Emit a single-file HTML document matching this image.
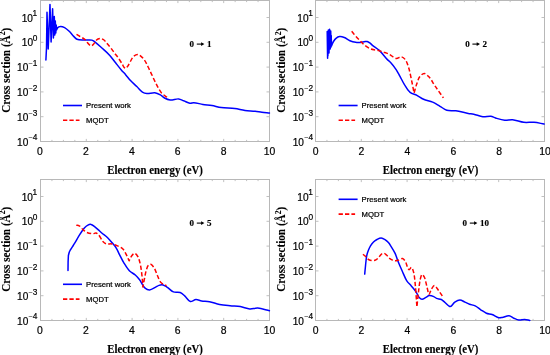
<!DOCTYPE html><html><head><meta charset="utf-8"><style>html,body{margin:0;padding:0;background:#fff;}body{width:550px;height:355px;overflow:hidden;}svg{display:block;will-change:transform;filter:blur(0.3px);}</style></head><body>
<svg width="550" height="355" viewBox="0 0 550 355">
<rect width="550" height="355" fill="#fff"/>
<path d="M40.50 141.50v-2.6M40.50 0.50v2.6M51.95 141.50v-1.6M51.95 0.50v1.6M63.40 141.50v-1.6M63.40 0.50v1.6M74.85 141.50v-1.6M74.85 0.50v1.6M86.30 141.50v-2.6M86.30 0.50v2.6M97.75 141.50v-1.6M97.75 0.50v1.6M109.20 141.50v-1.6M109.20 0.50v1.6M120.65 141.50v-1.6M120.65 0.50v1.6M132.10 141.50v-2.6M132.10 0.50v2.6M143.55 141.50v-1.6M143.55 0.50v1.6M155.00 141.50v-1.6M155.00 0.50v1.6M166.45 141.50v-1.6M166.45 0.50v1.6M177.90 141.50v-2.6M177.90 0.50v2.6M189.35 141.50v-1.6M189.35 0.50v1.6M200.80 141.50v-1.6M200.80 0.50v1.6M212.25 141.50v-1.6M212.25 0.50v1.6M223.70 141.50v-2.6M223.70 0.50v2.6M235.15 141.50v-1.6M235.15 0.50v1.6M246.60 141.50v-1.6M246.60 0.50v1.6M258.05 141.50v-1.6M258.05 0.50v1.6M269.50 141.50v-2.6M269.50 0.50v2.6M40.50 141.50h3.0M269.50 141.50h-3.0M40.50 116.70h3.0M269.50 116.70h-3.0M40.50 91.90h3.0M269.50 91.90h-3.0M40.50 67.10h3.0M269.50 67.10h-3.0M40.50 42.30h3.0M269.50 42.30h-3.0M40.50 17.50h3.0M269.50 17.50h-3.0" stroke="#b0b0b0" stroke-width="0.8" fill="none"/>
<rect x="40.50" y="0.50" width="229.00" height="141.00" fill="none" stroke="#b8b8b8" stroke-width="1"/>
<text x="40.00" y="154.50" text-anchor="middle" font-family="Liberation Sans, sans-serif" font-size="10.4" fill="#000" stroke="#000" stroke-width="0.2">0</text>
<text x="85.90" y="154.50" text-anchor="middle" font-family="Liberation Sans, sans-serif" font-size="10.4" fill="#000" stroke="#000" stroke-width="0.2">2</text>
<text x="131.80" y="154.50" text-anchor="middle" font-family="Liberation Sans, sans-serif" font-size="10.4" fill="#000" stroke="#000" stroke-width="0.2">4</text>
<text x="177.70" y="154.50" text-anchor="middle" font-family="Liberation Sans, sans-serif" font-size="10.4" fill="#000" stroke="#000" stroke-width="0.2">6</text>
<text x="223.60" y="154.50" text-anchor="middle" font-family="Liberation Sans, sans-serif" font-size="10.4" fill="#000" stroke="#000" stroke-width="0.2">8</text>
<text x="269.50" y="154.50" text-anchor="middle" font-family="Liberation Sans, sans-serif" font-size="10.4" fill="#000" stroke="#000" stroke-width="0.2">10</text>
<text x="37.20" y="21.50" text-anchor="end" font-family="Liberation Sans, sans-serif" font-size="10.1" fill="#000" stroke="#000" stroke-width="0.2">10<tspan font-size="8.3" dy="-5.1" dx="-0.4">1</tspan></text>
<text x="37.40" y="46.30" text-anchor="end" font-family="Liberation Sans, sans-serif" font-size="10.1" fill="#000" stroke="#000" stroke-width="0.2">10<tspan font-size="8.3" dy="-5.1" dx="-0.3">0</tspan></text>
<text x="37.40" y="71.10" text-anchor="end" font-family="Liberation Sans, sans-serif" font-size="10.1" fill="#000" stroke="#000" stroke-width="0.2">10<tspan font-size="6.8" dy="-5.1" dx="0.5">−</tspan><tspan font-size="8.3">1</tspan></text>
<text x="37.40" y="95.90" text-anchor="end" font-family="Liberation Sans, sans-serif" font-size="10.1" fill="#000" stroke="#000" stroke-width="0.2">10<tspan font-size="6.8" dy="-5.1" dx="0.5">−</tspan><tspan font-size="8.3">2</tspan></text>
<text x="37.40" y="120.70" text-anchor="end" font-family="Liberation Sans, sans-serif" font-size="10.1" fill="#000" stroke="#000" stroke-width="0.2">10<tspan font-size="6.8" dy="-5.1" dx="0.5">−</tspan><tspan font-size="8.3">3</tspan></text>
<text x="37.40" y="145.50" text-anchor="end" font-family="Liberation Sans, sans-serif" font-size="10.1" fill="#000" stroke="#000" stroke-width="0.2">10<tspan font-size="6.8" dy="-5.1" dx="0.5">−</tspan><tspan font-size="8.3">4</tspan></text>
<text transform="translate(155.00 174.20) scale(0.93 1)" x="0" y="0" text-anchor="middle" font-family="Liberation Serif, serif" font-weight="bold" font-size="11.6" fill="#000" stroke="#000" stroke-width="0.15">Electron energy (eV)</text>
<text transform="translate(9.80 70.30) rotate(-90) scale(0.91 1)" x="0" y="0" text-anchor="middle" font-family="Liberation Serif, serif" font-weight="bold" font-size="12.3" fill="#000" stroke="#000" stroke-width="0.1">Cross section (Å<tspan font-size="8.2" dy="-4.6">2</tspan><tspan dy="4.6">)</tspan></text>
<text x="189.60" y="46.80" font-family="Liberation Serif, serif" font-weight="bold" font-size="9" fill="#000" stroke="#000" stroke-width="0.15">0</text>
<path d="M196.80 44.10H202.30" stroke="#000" stroke-width="1.1"/><path d="M201.10 42.30L204.40 44.10L201.10 45.90z" fill="#000"/>
<text x="207.00" y="46.80" font-family="Liberation Serif, serif" font-weight="bold" font-size="9" fill="#000" stroke="#000" stroke-width="0.15">1</text>
<path d="M63.00 105.50H82.00" stroke="#0000ff" stroke-width="1.6"/>
<path d="M63.00 120.30H79.50" stroke="#ff0000" stroke-width="1.6" stroke-dasharray="4.3 2.1"/>
<text x="86.00" y="108.30" font-family="Liberation Sans, sans-serif" font-size="7.7" fill="#000" stroke="#000" stroke-width="0.22">Present work</text>
<text x="86.00" y="122.90" font-family="Liberation Sans, sans-serif" font-size="7.7" fill="#000" stroke="#000" stroke-width="0.22">MQDT</text>
<clipPath id="c0"><rect x="40.00" y="0.00" width="230.50" height="143.00"/></clipPath>
<path clip-path="url(#c0)" d="M45.90 60.00 L46.50 48.00 L47.00 12.20 L48.20 49.00 L50.00 4.40 L51.10 42.00 L52.60 8.70 L53.40 38.00 L54.30 16.50 L54.80 35.00 L55.30 21.00 L55.80 33.00 L56.20 25.00 L56.60 30.00 C56.90 29.33 57.10 28.53 57.50 28.00 C57.85 27.53 58.29 27.16 58.80 26.90 C59.35 26.62 59.96 26.38 60.70 26.40 C61.77 26.42 63.31 26.92 64.60 27.60 C66.15 28.42 67.73 29.90 69.20 31.30 C70.78 32.81 72.27 34.99 73.70 36.40 C74.84 37.52 75.65 38.58 77.00 39.20 C78.56 39.92 80.83 39.99 82.70 40.10 C84.49 40.21 86.38 39.89 88.00 39.90 C89.37 39.91 90.62 39.74 91.80 40.10 C92.99 40.47 93.85 41.19 95.10 42.10 C97.01 43.49 99.57 45.90 101.90 48.00 C104.46 50.30 107.46 52.84 109.80 55.40 C111.98 57.79 113.67 60.36 115.60 62.80 C117.50 65.20 119.48 67.76 121.30 69.90 C122.86 71.74 124.30 73.16 125.80 74.90 C127.37 76.72 128.75 78.74 130.50 80.60 C132.39 82.61 134.78 84.54 136.80 86.50 C138.74 88.38 140.49 90.92 142.40 92.10 C143.88 93.01 145.17 93.42 146.90 93.60 C149.14 93.83 152.43 92.39 154.80 92.70 C156.86 92.97 158.73 93.97 160.40 94.90 C161.94 95.76 162.95 97.17 164.50 98.00 C166.18 98.90 168.09 99.78 170.20 100.00 C172.70 100.26 176.18 98.62 178.60 98.90 C180.54 99.12 181.92 100.11 183.70 100.80 C185.67 101.56 188.05 103.09 189.90 103.30 C191.33 103.47 192.23 102.67 193.80 102.70 C196.20 102.74 199.87 103.92 202.90 104.40 C205.90 104.88 208.88 105.09 211.90 105.60 C215.01 106.12 217.87 107.02 221.30 107.50 C225.38 108.08 230.63 108.04 234.80 108.60 C238.45 109.09 241.60 110.07 245.00 110.50 C248.36 110.93 252.07 110.85 255.10 111.20 C257.60 111.49 259.57 111.99 261.90 112.30 C264.36 112.63 266.97 112.83 269.50 113.10" stroke="#0000ff" stroke-width="1.5" fill="none" stroke-linejoin="round" stroke-linecap="round"/>
<path clip-path="url(#c0)" d="M76.50 34.40 C77.67 35.10 78.81 35.80 80.00 36.50 C81.24 37.23 82.73 37.91 83.80 38.70 C84.70 39.36 85.36 40.00 86.10 40.80 C86.93 41.70 87.61 43.03 88.50 43.90 C89.32 44.71 90.33 45.89 91.20 45.90 C91.99 45.91 92.81 45.03 93.50 44.30 C94.34 43.42 94.87 41.72 95.70 40.80 C96.40 40.03 97.14 39.38 98.00 39.00 C98.85 38.62 99.86 38.38 100.80 38.50 C101.85 38.64 102.99 39.24 104.00 40.00 C105.24 40.94 106.39 42.70 107.50 44.00 C108.55 45.23 109.46 46.27 110.50 47.60 C111.72 49.16 113.03 51.12 114.30 52.80 C115.53 54.42 116.77 55.78 118.00 57.50 C119.40 59.46 121.11 62.20 122.20 64.00 C122.95 65.24 123.31 66.46 124.00 67.20 C124.52 67.75 125.14 68.36 125.70 68.30 C126.34 68.23 126.97 67.23 127.60 66.40 C128.50 65.21 129.32 63.23 130.30 61.60 C131.34 59.86 132.26 57.47 133.70 56.30 C134.96 55.28 136.69 54.35 138.20 54.60 C140.05 54.91 142.11 57.15 143.80 59.20 C145.96 61.82 147.51 65.87 149.40 69.60 C151.54 73.83 153.73 79.18 155.90 83.30 C157.76 86.83 159.35 90.45 161.50 92.90 C163.25 94.89 165.37 95.90 167.30 97.40" stroke="#ff0000" stroke-width="1.5" fill="none" stroke-dasharray="4.3 2.3" stroke-linejoin="round"/>
<path d="M315.50 141.50v-2.6M315.50 0.50v2.6M326.95 141.50v-1.6M326.95 0.50v1.6M338.40 141.50v-1.6M338.40 0.50v1.6M349.85 141.50v-1.6M349.85 0.50v1.6M361.30 141.50v-2.6M361.30 0.50v2.6M372.75 141.50v-1.6M372.75 0.50v1.6M384.20 141.50v-1.6M384.20 0.50v1.6M395.65 141.50v-1.6M395.65 0.50v1.6M407.10 141.50v-2.6M407.10 0.50v2.6M418.55 141.50v-1.6M418.55 0.50v1.6M430.00 141.50v-1.6M430.00 0.50v1.6M441.45 141.50v-1.6M441.45 0.50v1.6M452.90 141.50v-2.6M452.90 0.50v2.6M464.35 141.50v-1.6M464.35 0.50v1.6M475.80 141.50v-1.6M475.80 0.50v1.6M487.25 141.50v-1.6M487.25 0.50v1.6M498.70 141.50v-2.6M498.70 0.50v2.6M510.15 141.50v-1.6M510.15 0.50v1.6M521.60 141.50v-1.6M521.60 0.50v1.6M533.05 141.50v-1.6M533.05 0.50v1.6M544.50 141.50v-2.6M544.50 0.50v2.6M315.50 141.50h3.0M544.50 141.50h-3.0M315.50 116.70h3.0M544.50 116.70h-3.0M315.50 91.90h3.0M544.50 91.90h-3.0M315.50 67.10h3.0M544.50 67.10h-3.0M315.50 42.30h3.0M544.50 42.30h-3.0M315.50 17.50h3.0M544.50 17.50h-3.0" stroke="#b0b0b0" stroke-width="0.8" fill="none"/>
<rect x="315.50" y="0.50" width="229.00" height="141.00" fill="none" stroke="#b8b8b8" stroke-width="1"/>
<text x="315.60" y="154.50" text-anchor="middle" font-family="Liberation Sans, sans-serif" font-size="10.4" fill="#000" stroke="#000" stroke-width="0.2">0</text>
<text x="361.50" y="154.50" text-anchor="middle" font-family="Liberation Sans, sans-serif" font-size="10.4" fill="#000" stroke="#000" stroke-width="0.2">2</text>
<text x="407.40" y="154.50" text-anchor="middle" font-family="Liberation Sans, sans-serif" font-size="10.4" fill="#000" stroke="#000" stroke-width="0.2">4</text>
<text x="453.30" y="154.50" text-anchor="middle" font-family="Liberation Sans, sans-serif" font-size="10.4" fill="#000" stroke="#000" stroke-width="0.2">6</text>
<text x="499.20" y="154.50" text-anchor="middle" font-family="Liberation Sans, sans-serif" font-size="10.4" fill="#000" stroke="#000" stroke-width="0.2">8</text>
<text x="545.10" y="154.50" text-anchor="middle" font-family="Liberation Sans, sans-serif" font-size="10.4" fill="#000" stroke="#000" stroke-width="0.2">10</text>
<text x="312.80" y="21.50" text-anchor="end" font-family="Liberation Sans, sans-serif" font-size="10.1" fill="#000" stroke="#000" stroke-width="0.2">10<tspan font-size="8.3" dy="-5.1" dx="-0.4">1</tspan></text>
<text x="313.00" y="46.30" text-anchor="end" font-family="Liberation Sans, sans-serif" font-size="10.1" fill="#000" stroke="#000" stroke-width="0.2">10<tspan font-size="8.3" dy="-5.1" dx="-0.3">0</tspan></text>
<text x="313.00" y="71.10" text-anchor="end" font-family="Liberation Sans, sans-serif" font-size="10.1" fill="#000" stroke="#000" stroke-width="0.2">10<tspan font-size="6.8" dy="-5.1" dx="0.5">−</tspan><tspan font-size="8.3">1</tspan></text>
<text x="313.00" y="95.90" text-anchor="end" font-family="Liberation Sans, sans-serif" font-size="10.1" fill="#000" stroke="#000" stroke-width="0.2">10<tspan font-size="6.8" dy="-5.1" dx="0.5">−</tspan><tspan font-size="8.3">2</tspan></text>
<text x="313.00" y="120.70" text-anchor="end" font-family="Liberation Sans, sans-serif" font-size="10.1" fill="#000" stroke="#000" stroke-width="0.2">10<tspan font-size="6.8" dy="-5.1" dx="0.5">−</tspan><tspan font-size="8.3">3</tspan></text>
<text x="313.00" y="145.50" text-anchor="end" font-family="Liberation Sans, sans-serif" font-size="10.1" fill="#000" stroke="#000" stroke-width="0.2">10<tspan font-size="6.8" dy="-5.1" dx="0.5">−</tspan><tspan font-size="8.3">4</tspan></text>
<text transform="translate(430.60 174.20) scale(0.93 1)" x="0" y="0" text-anchor="middle" font-family="Liberation Serif, serif" font-weight="bold" font-size="11.6" fill="#000" stroke="#000" stroke-width="0.15">Electron energy (eV)</text>
<text transform="translate(285.40 70.30) rotate(-90) scale(0.91 1)" x="0" y="0" text-anchor="middle" font-family="Liberation Serif, serif" font-weight="bold" font-size="12.3" fill="#000" stroke="#000" stroke-width="0.1">Cross section (Å<tspan font-size="8.2" dy="-4.6">2</tspan><tspan dy="4.6">)</tspan></text>
<text x="465.20" y="46.80" font-family="Liberation Serif, serif" font-weight="bold" font-size="9" fill="#000" stroke="#000" stroke-width="0.15">0</text>
<path d="M472.40 44.10H477.90" stroke="#000" stroke-width="1.1"/><path d="M476.70 42.30L480.00 44.10L476.70 45.90z" fill="#000"/>
<text x="482.60" y="46.80" font-family="Liberation Serif, serif" font-weight="bold" font-size="9" fill="#000" stroke="#000" stroke-width="0.15">2</text>
<path d="M338.60 105.50H357.60" stroke="#0000ff" stroke-width="1.6"/>
<path d="M338.60 120.30H355.10" stroke="#ff0000" stroke-width="1.6" stroke-dasharray="4.3 2.1"/>
<text x="361.60" y="108.30" font-family="Liberation Sans, sans-serif" font-size="7.7" fill="#000" stroke="#000" stroke-width="0.22">Present work</text>
<text x="361.60" y="122.90" font-family="Liberation Sans, sans-serif" font-size="7.7" fill="#000" stroke="#000" stroke-width="0.22">MQDT</text>
<clipPath id="c1"><rect x="315.60" y="0.00" width="230.50" height="143.00"/></clipPath>
<path clip-path="url(#c1)" d="M327.60 58.30 L327.20 31.50 L327.90 56.00 L328.40 30.00 L329.00 53.00 L329.60 29.20 L330.20 49.00 L330.70 31.00 L331.10 47.00 L331.20 35.50 L331.50 46.00 L332.30 44.00 C332.80 43.00 333.19 41.94 333.80 41.00 C334.42 40.04 335.08 39.02 336.00 38.30 C336.99 37.53 338.29 36.77 339.60 36.60 C341.04 36.42 342.71 36.91 344.30 37.50 C346.14 38.18 347.97 39.89 349.90 40.70 C351.75 41.47 353.75 42.03 355.60 42.30 C357.28 42.55 358.98 42.52 360.50 42.40 C361.85 42.29 363.11 41.85 364.30 41.70 C365.33 41.57 366.29 41.30 367.20 41.50 C368.12 41.70 368.96 42.31 369.80 42.90 C370.73 43.55 371.37 44.38 372.50 45.30 C374.23 46.71 377.06 48.32 379.30 50.40 C381.96 52.87 385.06 57.22 387.20 59.40 C388.52 60.75 389.38 61.18 390.60 62.50 C392.33 64.37 394.68 67.37 396.30 69.80 C397.76 72.00 398.73 74.09 400.00 76.40 C401.39 78.93 402.66 81.80 404.30 84.40 C406.01 87.10 407.81 90.46 410.10 92.30 C412.10 93.90 414.68 94.15 416.90 95.30 C419.18 96.48 421.12 98.20 423.60 99.30 C426.34 100.52 429.90 100.88 432.70 102.10 C435.34 103.25 437.61 104.93 440.00 106.30 C442.31 107.62 444.28 109.44 446.80 110.20 C449.51 111.02 452.58 110.36 455.80 110.80 C459.62 111.33 464.87 112.81 468.20 113.40 C470.43 113.79 471.72 113.76 473.80 114.20 C476.48 114.77 479.96 116.50 482.90 116.80 C485.58 117.07 488.43 115.89 490.70 116.20 C492.55 116.46 493.70 117.41 495.60 118.00 C498.15 118.79 501.75 120.05 504.70 120.30 C507.41 120.53 509.76 119.48 512.60 119.70 C516.03 119.96 520.13 121.88 523.80 122.30 C527.26 122.70 530.62 122.02 534.00 122.30 C537.39 122.58 540.73 123.43 544.10 124.00" stroke="#0000ff" stroke-width="1.5" fill="none" stroke-linejoin="round" stroke-linecap="round"/>
<path clip-path="url(#c1)" d="M351.70 31.30 C353.13 33.03 354.46 34.77 356.00 36.50 C357.64 38.34 359.67 40.39 361.30 42.00 C362.63 43.32 363.59 44.43 365.00 45.50 C366.55 46.68 368.65 47.97 370.30 48.70 C371.60 49.28 372.72 49.52 374.00 49.80 C375.35 50.09 376.77 50.06 378.20 50.40 C379.76 50.77 381.36 51.45 383.00 52.00 C384.72 52.58 386.92 53.18 388.30 53.80 C389.25 54.22 389.67 54.56 390.60 55.10 C392.08 55.96 394.42 58.30 396.30 58.50 C397.98 58.68 399.78 56.58 401.30 56.80 C402.77 57.01 404.18 58.21 405.30 59.60 C406.78 61.44 407.65 64.58 408.60 67.50 C409.71 70.93 410.43 74.96 411.30 79.00 C412.26 83.45 413.17 88.40 414.10 93.10 C415.03 89.90 415.88 86.39 416.90 83.50 C417.77 81.04 418.36 78.53 419.70 76.80 C420.88 75.28 422.65 73.40 424.20 73.40 C425.85 73.40 427.70 75.58 429.30 77.30 C431.32 79.47 432.81 82.73 434.90 85.80 C437.41 89.50 440.57 93.87 443.40 97.90" stroke="#ff0000" stroke-width="1.5" fill="none" stroke-dasharray="4.3 2.3" stroke-linejoin="round"/>
<path d="M40.50 320.50v-2.6M40.50 179.50v2.6M51.95 320.50v-1.6M51.95 179.50v1.6M63.40 320.50v-1.6M63.40 179.50v1.6M74.85 320.50v-1.6M74.85 179.50v1.6M86.30 320.50v-2.6M86.30 179.50v2.6M97.75 320.50v-1.6M97.75 179.50v1.6M109.20 320.50v-1.6M109.20 179.50v1.6M120.65 320.50v-1.6M120.65 179.50v1.6M132.10 320.50v-2.6M132.10 179.50v2.6M143.55 320.50v-1.6M143.55 179.50v1.6M155.00 320.50v-1.6M155.00 179.50v1.6M166.45 320.50v-1.6M166.45 179.50v1.6M177.90 320.50v-2.6M177.90 179.50v2.6M189.35 320.50v-1.6M189.35 179.50v1.6M200.80 320.50v-1.6M200.80 179.50v1.6M212.25 320.50v-1.6M212.25 179.50v1.6M223.70 320.50v-2.6M223.70 179.50v2.6M235.15 320.50v-1.6M235.15 179.50v1.6M246.60 320.50v-1.6M246.60 179.50v1.6M258.05 320.50v-1.6M258.05 179.50v1.6M269.50 320.50v-2.6M269.50 179.50v2.6M40.50 320.50h3.0M269.50 320.50h-3.0M40.50 295.70h3.0M269.50 295.70h-3.0M40.50 270.90h3.0M269.50 270.90h-3.0M40.50 246.10h3.0M269.50 246.10h-3.0M40.50 221.30h3.0M269.50 221.30h-3.0M40.50 196.50h3.0M269.50 196.50h-3.0" stroke="#b0b0b0" stroke-width="0.8" fill="none"/>
<rect x="40.50" y="179.50" width="229.00" height="141.00" fill="none" stroke="#b8b8b8" stroke-width="1"/>
<text x="40.00" y="333.50" text-anchor="middle" font-family="Liberation Sans, sans-serif" font-size="10.4" fill="#000" stroke="#000" stroke-width="0.2">0</text>
<text x="85.90" y="333.50" text-anchor="middle" font-family="Liberation Sans, sans-serif" font-size="10.4" fill="#000" stroke="#000" stroke-width="0.2">2</text>
<text x="131.80" y="333.50" text-anchor="middle" font-family="Liberation Sans, sans-serif" font-size="10.4" fill="#000" stroke="#000" stroke-width="0.2">4</text>
<text x="177.70" y="333.50" text-anchor="middle" font-family="Liberation Sans, sans-serif" font-size="10.4" fill="#000" stroke="#000" stroke-width="0.2">6</text>
<text x="223.60" y="333.50" text-anchor="middle" font-family="Liberation Sans, sans-serif" font-size="10.4" fill="#000" stroke="#000" stroke-width="0.2">8</text>
<text x="269.50" y="333.50" text-anchor="middle" font-family="Liberation Sans, sans-serif" font-size="10.4" fill="#000" stroke="#000" stroke-width="0.2">10</text>
<text x="37.20" y="200.50" text-anchor="end" font-family="Liberation Sans, sans-serif" font-size="10.1" fill="#000" stroke="#000" stroke-width="0.2">10<tspan font-size="8.3" dy="-5.1" dx="-0.4">1</tspan></text>
<text x="37.40" y="225.30" text-anchor="end" font-family="Liberation Sans, sans-serif" font-size="10.1" fill="#000" stroke="#000" stroke-width="0.2">10<tspan font-size="8.3" dy="-5.1" dx="-0.3">0</tspan></text>
<text x="37.40" y="250.10" text-anchor="end" font-family="Liberation Sans, sans-serif" font-size="10.1" fill="#000" stroke="#000" stroke-width="0.2">10<tspan font-size="6.8" dy="-5.1" dx="0.5">−</tspan><tspan font-size="8.3">1</tspan></text>
<text x="37.40" y="274.90" text-anchor="end" font-family="Liberation Sans, sans-serif" font-size="10.1" fill="#000" stroke="#000" stroke-width="0.2">10<tspan font-size="6.8" dy="-5.1" dx="0.5">−</tspan><tspan font-size="8.3">2</tspan></text>
<text x="37.40" y="299.70" text-anchor="end" font-family="Liberation Sans, sans-serif" font-size="10.1" fill="#000" stroke="#000" stroke-width="0.2">10<tspan font-size="6.8" dy="-5.1" dx="0.5">−</tspan><tspan font-size="8.3">3</tspan></text>
<text x="37.40" y="324.50" text-anchor="end" font-family="Liberation Sans, sans-serif" font-size="10.1" fill="#000" stroke="#000" stroke-width="0.2">10<tspan font-size="6.8" dy="-5.1" dx="0.5">−</tspan><tspan font-size="8.3">4</tspan></text>
<text transform="translate(155.00 353.20) scale(0.93 1)" x="0" y="0" text-anchor="middle" font-family="Liberation Serif, serif" font-weight="bold" font-size="11.6" fill="#000" stroke="#000" stroke-width="0.15">Electron energy (eV)</text>
<text transform="translate(9.80 249.30) rotate(-90) scale(0.91 1)" x="0" y="0" text-anchor="middle" font-family="Liberation Serif, serif" font-weight="bold" font-size="12.3" fill="#000" stroke="#000" stroke-width="0.1">Cross section (Å<tspan font-size="8.2" dy="-4.6">2</tspan><tspan dy="4.6">)</tspan></text>
<text x="189.60" y="225.80" font-family="Liberation Serif, serif" font-weight="bold" font-size="9" fill="#000" stroke="#000" stroke-width="0.15">0</text>
<path d="M196.80 223.10H202.30" stroke="#000" stroke-width="1.1"/><path d="M201.10 221.30L204.40 223.10L201.10 224.90z" fill="#000"/>
<text x="207.00" y="225.80" font-family="Liberation Serif, serif" font-weight="bold" font-size="9" fill="#000" stroke="#000" stroke-width="0.15">5</text>
<path d="M63.00 284.30H82.00" stroke="#0000ff" stroke-width="1.6"/>
<path d="M63.00 299.10H79.50" stroke="#ff0000" stroke-width="1.6" stroke-dasharray="4.3 2.1"/>
<text x="86.00" y="287.10" font-family="Liberation Sans, sans-serif" font-size="7.7" fill="#000" stroke="#000" stroke-width="0.22">Present work</text>
<text x="86.00" y="301.70" font-family="Liberation Sans, sans-serif" font-size="7.7" fill="#000" stroke="#000" stroke-width="0.22">MQDT</text>
<clipPath id="c2"><rect x="40.00" y="179.00" width="230.50" height="143.00"/></clipPath>
<path clip-path="url(#c2)" d="M68.00 270.40 L68.10 262.00 L68.40 255.50 L69.30 252.00 L70.30 250.00 C71.03 248.87 71.77 247.73 72.50 246.60 C73.23 245.47 73.84 244.60 74.70 243.20 C76.05 241.02 77.98 237.35 79.70 234.70 C81.29 232.24 83.08 229.47 84.60 227.80 C85.62 226.68 86.41 225.87 87.50 225.30 C88.55 224.75 89.84 224.21 91.00 224.40 C92.31 224.61 93.59 225.92 94.90 226.90 C96.39 228.01 98.14 229.68 99.40 230.80 C100.33 231.63 100.82 232.16 101.80 233.00 C103.26 234.25 105.69 235.89 107.40 237.50 C109.05 239.06 110.43 240.74 111.90 242.50 C113.43 244.34 115.12 246.26 116.40 248.30 C117.65 250.30 118.35 252.35 119.50 254.60 C120.84 257.23 122.32 260.37 124.00 263.10 C125.69 265.84 127.53 268.94 129.60 271.00 C131.35 272.75 133.61 273.50 135.30 275.00 C136.93 276.44 138.15 277.91 139.60 279.80 C141.41 282.15 143.07 286.57 145.10 288.20 C146.51 289.33 148.02 289.94 149.60 289.90 C151.40 289.85 153.62 288.22 155.30 287.40 C156.68 286.73 157.80 285.83 159.00 285.40 C160.02 285.03 161.01 284.72 162.00 284.80 C163.01 284.88 164.05 285.43 165.00 285.90 C165.95 286.37 166.65 286.88 167.70 287.60 C169.27 288.68 171.29 291.09 173.40 291.90 C175.46 292.69 178.26 291.75 180.20 292.50 C181.97 293.18 183.17 294.56 184.70 295.90 C186.52 297.48 188.28 301.03 190.30 301.50 C192.05 301.91 194.01 299.70 195.90 299.60 C197.78 299.50 199.53 300.56 201.60 300.90 C204.01 301.29 206.73 301.18 209.50 301.70 C212.68 302.30 216.18 303.82 219.60 304.50 C223.04 305.19 226.62 305.45 230.10 305.80 C233.52 306.15 236.98 306.07 240.30 306.60 C243.54 307.12 246.76 308.69 249.80 308.90 C252.54 309.09 254.82 307.93 257.70 308.10 C261.26 308.31 265.57 309.83 269.50 310.70" stroke="#0000ff" stroke-width="1.5" fill="none" stroke-linejoin="round" stroke-linecap="round"/>
<path clip-path="url(#c2)" d="M76.30 225.20 C77.27 225.40 78.24 225.28 79.20 225.80 C80.51 226.51 81.75 228.56 83.10 229.70 C84.36 230.77 85.50 231.84 87.00 232.50 C88.65 233.23 91.06 233.68 92.70 233.70 C93.95 233.72 95.02 232.91 96.00 233.10 C96.90 233.27 97.57 233.79 98.40 234.60 C99.81 235.97 101.36 239.78 102.90 241.40 C104.01 242.57 104.94 243.45 106.30 243.90 C107.87 244.41 110.06 243.58 111.90 243.90 C113.80 244.23 115.69 245.06 117.50 245.90 C119.36 246.76 121.44 247.58 122.90 249.00 C124.39 250.46 125.27 252.65 126.30 254.60 C127.35 256.58 128.17 258.73 129.10 260.80 C129.93 259.20 130.59 257.28 131.60 256.00 C132.47 254.90 133.60 253.37 134.60 253.40 C135.66 253.43 136.92 255.07 137.80 256.50 C139.03 258.50 139.72 261.80 140.40 264.80 C141.18 268.23 141.58 272.28 142.00 276.00 C142.41 279.68 142.60 283.33 142.90 287.00 C143.47 284.00 144.01 280.90 144.60 278.00 C145.15 275.28 145.55 272.40 146.30 270.10 C146.91 268.21 147.52 266.01 148.50 265.10 C149.16 264.49 150.02 264.11 150.80 264.30 C151.91 264.57 153.19 266.35 154.20 267.90 C155.52 269.93 156.34 273.30 157.50 275.80 C158.58 278.15 159.31 280.83 160.90 282.50 C162.37 284.05 164.63 284.63 166.50 285.70" stroke="#ff0000" stroke-width="1.5" fill="none" stroke-dasharray="4.3 2.3" stroke-linejoin="round"/>
<path d="M315.50 320.50v-2.6M315.50 179.50v2.6M326.95 320.50v-1.6M326.95 179.50v1.6M338.40 320.50v-1.6M338.40 179.50v1.6M349.85 320.50v-1.6M349.85 179.50v1.6M361.30 320.50v-2.6M361.30 179.50v2.6M372.75 320.50v-1.6M372.75 179.50v1.6M384.20 320.50v-1.6M384.20 179.50v1.6M395.65 320.50v-1.6M395.65 179.50v1.6M407.10 320.50v-2.6M407.10 179.50v2.6M418.55 320.50v-1.6M418.55 179.50v1.6M430.00 320.50v-1.6M430.00 179.50v1.6M441.45 320.50v-1.6M441.45 179.50v1.6M452.90 320.50v-2.6M452.90 179.50v2.6M464.35 320.50v-1.6M464.35 179.50v1.6M475.80 320.50v-1.6M475.80 179.50v1.6M487.25 320.50v-1.6M487.25 179.50v1.6M498.70 320.50v-2.6M498.70 179.50v2.6M510.15 320.50v-1.6M510.15 179.50v1.6M521.60 320.50v-1.6M521.60 179.50v1.6M533.05 320.50v-1.6M533.05 179.50v1.6M544.50 320.50v-2.6M544.50 179.50v2.6M315.50 320.50h3.0M544.50 320.50h-3.0M315.50 295.70h3.0M544.50 295.70h-3.0M315.50 270.90h3.0M544.50 270.90h-3.0M315.50 246.10h3.0M544.50 246.10h-3.0M315.50 221.30h3.0M544.50 221.30h-3.0M315.50 196.50h3.0M544.50 196.50h-3.0" stroke="#b0b0b0" stroke-width="0.8" fill="none"/>
<rect x="315.50" y="179.50" width="229.00" height="141.00" fill="none" stroke="#b8b8b8" stroke-width="1"/>
<text x="315.60" y="333.50" text-anchor="middle" font-family="Liberation Sans, sans-serif" font-size="10.4" fill="#000" stroke="#000" stroke-width="0.2">0</text>
<text x="361.50" y="333.50" text-anchor="middle" font-family="Liberation Sans, sans-serif" font-size="10.4" fill="#000" stroke="#000" stroke-width="0.2">2</text>
<text x="407.40" y="333.50" text-anchor="middle" font-family="Liberation Sans, sans-serif" font-size="10.4" fill="#000" stroke="#000" stroke-width="0.2">4</text>
<text x="453.30" y="333.50" text-anchor="middle" font-family="Liberation Sans, sans-serif" font-size="10.4" fill="#000" stroke="#000" stroke-width="0.2">6</text>
<text x="499.20" y="333.50" text-anchor="middle" font-family="Liberation Sans, sans-serif" font-size="10.4" fill="#000" stroke="#000" stroke-width="0.2">8</text>
<text x="545.10" y="333.50" text-anchor="middle" font-family="Liberation Sans, sans-serif" font-size="10.4" fill="#000" stroke="#000" stroke-width="0.2">10</text>
<text x="312.80" y="200.50" text-anchor="end" font-family="Liberation Sans, sans-serif" font-size="10.1" fill="#000" stroke="#000" stroke-width="0.2">10<tspan font-size="8.3" dy="-5.1" dx="-0.4">1</tspan></text>
<text x="313.00" y="225.30" text-anchor="end" font-family="Liberation Sans, sans-serif" font-size="10.1" fill="#000" stroke="#000" stroke-width="0.2">10<tspan font-size="8.3" dy="-5.1" dx="-0.3">0</tspan></text>
<text x="313.00" y="250.10" text-anchor="end" font-family="Liberation Sans, sans-serif" font-size="10.1" fill="#000" stroke="#000" stroke-width="0.2">10<tspan font-size="6.8" dy="-5.1" dx="0.5">−</tspan><tspan font-size="8.3">1</tspan></text>
<text x="313.00" y="274.90" text-anchor="end" font-family="Liberation Sans, sans-serif" font-size="10.1" fill="#000" stroke="#000" stroke-width="0.2">10<tspan font-size="6.8" dy="-5.1" dx="0.5">−</tspan><tspan font-size="8.3">2</tspan></text>
<text x="313.00" y="299.70" text-anchor="end" font-family="Liberation Sans, sans-serif" font-size="10.1" fill="#000" stroke="#000" stroke-width="0.2">10<tspan font-size="6.8" dy="-5.1" dx="0.5">−</tspan><tspan font-size="8.3">3</tspan></text>
<text x="313.00" y="324.50" text-anchor="end" font-family="Liberation Sans, sans-serif" font-size="10.1" fill="#000" stroke="#000" stroke-width="0.2">10<tspan font-size="6.8" dy="-5.1" dx="0.5">−</tspan><tspan font-size="8.3">4</tspan></text>
<text transform="translate(430.60 353.20) scale(0.93 1)" x="0" y="0" text-anchor="middle" font-family="Liberation Serif, serif" font-weight="bold" font-size="11.6" fill="#000" stroke="#000" stroke-width="0.15">Electron energy (eV)</text>
<text transform="translate(285.40 249.30) rotate(-90) scale(0.91 1)" x="0" y="0" text-anchor="middle" font-family="Liberation Serif, serif" font-weight="bold" font-size="12.3" fill="#000" stroke="#000" stroke-width="0.1">Cross section (Å<tspan font-size="8.2" dy="-4.6">2</tspan><tspan dy="4.6">)</tspan></text>
<text x="462.60" y="225.80" font-family="Liberation Serif, serif" font-weight="bold" font-size="9" fill="#000" stroke="#000" stroke-width="0.15">0</text>
<path d="M469.80 223.10H475.30" stroke="#000" stroke-width="1.1"/><path d="M474.10 221.30L477.40 223.10L474.10 224.90z" fill="#000"/>
<text x="480.00" y="225.80" font-family="Liberation Serif, serif" font-weight="bold" font-size="9" fill="#000" stroke="#000" stroke-width="0.15">10</text>
<path d="M338.60 199.30H357.60" stroke="#0000ff" stroke-width="1.6"/>
<path d="M338.60 214.10H355.10" stroke="#ff0000" stroke-width="1.6" stroke-dasharray="4.3 2.1"/>
<text x="361.60" y="202.10" font-family="Liberation Sans, sans-serif" font-size="7.7" fill="#000" stroke="#000" stroke-width="0.22">Present work</text>
<text x="361.60" y="216.70" font-family="Liberation Sans, sans-serif" font-size="7.7" fill="#000" stroke="#000" stroke-width="0.22">MQDT</text>
<clipPath id="c3"><rect x="315.60" y="179.00" width="230.50" height="143.00"/></clipPath>
<path clip-path="url(#c3)" d="M364.70 274.10 C364.90 272.07 365.09 270.10 365.30 268.00 C365.52 265.75 365.73 263.20 366.00 261.00 C366.24 259.03 366.38 257.23 366.80 255.40 C367.22 253.57 367.84 251.67 368.50 250.00 C369.09 248.49 369.68 247.12 370.50 245.80 C371.34 244.45 372.38 243.07 373.50 242.00 C374.56 240.99 375.73 240.16 377.00 239.50 C378.29 238.82 379.84 237.96 381.20 238.00 C382.51 238.04 383.82 238.86 385.00 239.60 C386.23 240.37 387.40 241.48 388.40 242.60 C389.40 243.72 390.07 244.84 391.00 246.30 C392.25 248.26 393.89 250.83 395.10 253.40 C396.42 256.20 397.30 259.53 398.50 262.50 C399.67 265.40 400.88 268.08 402.20 271.00 C403.63 274.16 405.07 278.16 406.80 280.80 C408.17 282.89 409.82 284.14 411.30 285.90 C412.82 287.71 414.47 289.56 415.80 291.50 C417.09 293.39 417.95 296.09 419.20 297.40 C420.08 298.32 420.97 299.13 422.00 299.20 C423.17 299.28 424.66 298.03 425.90 297.40 C427.08 296.80 428.05 295.67 429.30 295.50 C430.66 295.32 432.52 296.05 433.80 296.60 C434.89 297.07 435.50 297.93 436.60 298.40 C437.92 298.96 439.93 298.84 441.30 299.50 C442.57 300.11 443.35 301.11 444.60 302.10 C446.24 303.40 448.55 306.70 450.30 306.60 C451.93 306.50 453.13 303.23 454.80 302.10 C456.36 301.04 458.21 299.89 459.90 299.90 C461.58 299.91 463.27 301.37 464.90 302.10 C466.47 302.80 467.86 303.59 469.50 304.20 C471.28 304.87 473.38 305.02 475.20 305.90 C477.15 306.84 478.91 308.57 480.80 309.80 C482.65 311.00 484.46 312.41 486.40 313.20 C488.23 313.94 490.16 313.83 492.10 314.50 C494.28 315.26 496.90 317.33 498.80 317.70 C500.09 317.95 500.88 317.71 502.20 317.50 C504.09 317.20 506.96 315.48 509.00 315.70 C510.81 315.89 512.24 317.48 513.90 318.20 C515.51 318.90 517.06 319.75 518.80 320.00 C520.65 320.26 522.81 319.52 524.70 319.60 C526.47 319.68 528.10 320.13 529.80 320.40" stroke="#0000ff" stroke-width="1.5" fill="none" stroke-linejoin="round" stroke-linecap="round"/>
<path clip-path="url(#c3)" d="M363.00 254.20 C364.10 255.17 365.28 256.14 366.30 257.10 C367.23 257.98 367.72 259.14 368.90 259.70 C370.42 260.42 373.32 260.75 375.00 260.30 C376.41 259.92 377.49 258.77 378.50 257.80 C379.48 256.86 380.06 255.38 381.00 254.60 C381.82 253.92 382.80 253.16 383.70 253.20 C384.64 253.24 385.60 254.25 386.50 255.00 C387.54 255.86 388.73 257.45 389.50 258.20 C389.95 258.64 390.06 258.88 390.60 259.20 C391.56 259.77 393.69 260.70 395.10 260.80 C396.30 260.88 397.33 260.44 398.50 260.10 C399.79 259.73 401.35 258.35 402.50 258.60 C403.61 258.84 404.52 260.21 405.30 261.40 C406.26 262.87 406.76 265.49 407.50 267.00 C408.03 268.09 408.46 269.62 409.10 269.70 C409.75 269.78 410.72 267.28 411.40 267.40 C412.27 267.56 413.02 270.19 413.60 272.20 C414.47 275.21 414.72 279.41 415.20 284.00 C415.87 290.39 416.33 299.33 416.90 307.00 C417.47 301.67 417.98 295.92 418.60 291.00 C419.13 286.76 419.54 282.19 420.30 279.20 C420.79 277.28 421.24 274.76 422.00 274.60 C422.61 274.47 423.54 275.75 424.20 276.90 C425.39 278.99 426.15 283.89 427.00 287.00 C427.73 289.66 428.18 294.33 429.00 294.40 C429.72 294.46 430.52 290.55 431.50 289.00 C432.36 287.64 433.46 285.53 434.40 285.50 C435.22 285.47 436.01 287.03 436.80 288.00 C437.74 289.15 438.67 290.66 439.60 292.00 C440.54 293.36 441.47 294.73 442.40 296.10" stroke="#ff0000" stroke-width="1.5" fill="none" stroke-dasharray="4.3 2.3" stroke-linejoin="round"/>
</svg></body></html>
